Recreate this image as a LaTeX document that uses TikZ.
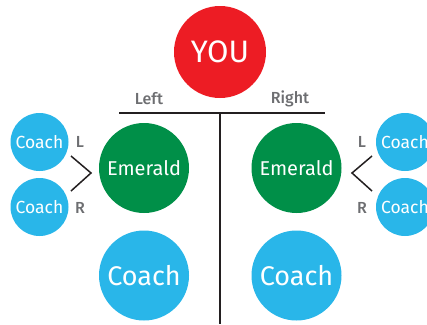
\documentclass[tikz,border=0pt]{standalone}
\usepackage{fontspec}
\setmainfont{Fira Sans}
\newfontfamily\medfont{Fira Sans Medium}
\definecolor{youred}{HTML}{ED1C24}
\definecolor{emerald}{HTML}{008F48}
\definecolor{coachblue}{HTML}{29B6E9}
\definecolor{labelgray}{HTML}{6D6E71}
\definecolor{linedark}{HTML}{231F20}
\begin{document}
\begin{tikzpicture}[x=1pt,y=-1pt,
  disc/.style={circle,inner sep=0pt,text=white,minimum size=#1},
  you/.style={disc=92pt,fill=youred,font=\fontsize{31}{31}\selectfont},
  emer/.style={disc=90pt,fill=emerald,font=\fontsize{20}{20}\selectfont},
  smallcoach/.style={disc=58pt,fill=coachblue,font=\fontsize{17.5}{18}\selectfont},
  bigcoach/.style={disc=90pt,fill=coachblue,font=\fontsize{27}{27}\selectfont},
  side/.style={text=labelgray,font=\medfont\fontsize{16}{16}\selectfont},
  rule/.style={draw=linedark,line width=2pt},
  chev/.style={draw=linedark,line width=1.5pt}]
\useasboundingbox (0,0) rectangle (427,324);
\clip (0,0) rectangle (427,324);

% top person
\node[you] (you) at (220,52) {YOU};

% split bar and centre line
\coordinate (barL) at (119,113);
\coordinate (barR) at (325,113);
\coordinate (barM) at (220,113);
\coordinate (base) at (220,324);
\draw[rule] (barL) -- (barR);
\draw[rule] (barM) -- (base);
\node[side] (left) at (149,99) {Left};
\node[side] (right) at (290,99) {Right};

% left branch
\node[emer] (emL) at (144,168) {Emerald};
\node[smallcoach] (cLL) at (39.5,142) {Coach};
\node[smallcoach] (cLR) at (39.5,207) {Coach};
\node[side] (tLL) at (80,142) {L};
\node[side] (tLR) at (80,208) {R};
\coordinate (kL1) at (71,156);
\coordinate (kL2) at (91,173);
\coordinate (kL3) at (71,191);
\draw[chev] (kL1) -- (kL2) -- (kL3);
\node[bigcoach] (bL) at (144,275.5) {Coach};

% right branch
\node[emer] (emR) at (296.5,168) {Emerald};
\node[smallcoach] (cRL) at (405,142) {Coach};
\node[smallcoach] (cRR) at (405,207) {Coach};
\node[side] (tRL) at (362,142) {L};
\node[side] (tRR) at (362,208) {R};
\coordinate (kR1) at (372,156);
\coordinate (kR2) at (352,173);
\coordinate (kR3) at (372,191);
\draw[chev] (kR1) -- (kR2) -- (kR3);
\node[bigcoach] (bR) at (296.5,275.5) {Coach};
\end{tikzpicture}
\end{document}
